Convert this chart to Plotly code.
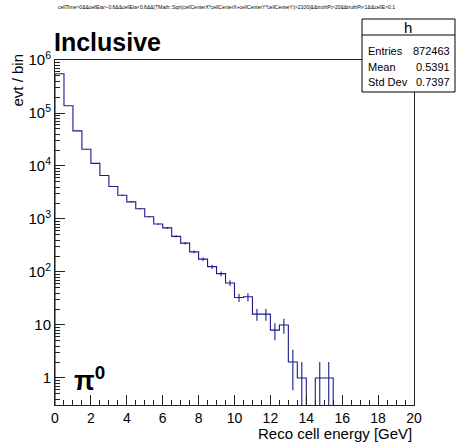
import math
import plotly.graph_objects as go

# histogram "h": reco cell energy, 0.5 GeV bins from 0 to 20
bin_lo = [i * 0.5 for i in range(40)]
counts = [550000, 137000, 46000, 20700, 11200, 6600, 4100, 2800, 2100, 1560,
          1100, 805, 680, 470, 350, 240, 175, 126, 93, 62,
          33, 34, 16, 16, 8, 10, 2, 1, 0, 1,
          1, 0, 0, 0, 0, 0, 0, 0, 0, 0]
bin_w = 0.5

stat_names = ['Entries', 'Mean', 'Std Dev']
stat_values = ['872463', '0.5391', '0.7397']

cut_text = ('cellTime&gt;0&amp;&amp;cellEta&gt;-0.6&amp;&amp;cellEta&lt;0.6&amp;&amp;'
            '(TMath::Sqrt(cellCenterX*cellCenterX+cellCenterY*cellCenterY)&gt;2100)'
            '&amp;&amp;truthPt&gt;20&amp;&amp;truthPt&lt;1&amp;&amp;cellE&gt;0.1')

FONT = 'Liberation Sans'
LINE = '#1a1a8c'
FLOOR = 0.05  # stand-in for empty bins on the log axis (below the visible range)

# step outline
step_x = [bin_lo[0]] + bin_lo + [bin_lo[-1] + bin_w]
step_y = [FLOOR] + [c if c > 0 else FLOOR for c in counts] + [FLOOR]

# sqrt(N) error bars at bin centres
err_x, err_y = [], []
for lo, c in zip(bin_lo, counts):
    if c <= 0:
        continue
    xc = lo + bin_w / 2
    err_x += [xc, xc, None]
    err_y += [max(c - math.sqrt(c), FLOOR), c + math.sqrt(c), None]

fig = go.Figure()
fig.add_trace(go.Scatter(x=step_x, y=step_y, mode='lines', line_shape='hv',
                         line=dict(color=LINE, width=1.1), hoverinfo='skip'))
fig.add_trace(go.Scatter(x=err_x, y=err_y, mode='lines',
                         line=dict(color=LINE, width=1.1), hoverinfo='skip'))

major_y = [10 ** k for k in range(7)]
minor_y = [m * 10 ** k for k in range(-1, 6) for m in range(2, 10)]

fig.update_layout(
    width=456, height=443,
    margin=dict(l=55, r=42, t=60, b=38),
    paper_bgcolor='white', plot_bgcolor='white',
    showlegend=False,
    font=dict(family=FONT, size=14, color='black'),
    xaxis=dict(range=[0, 20], showgrid=False, zeroline=False,
               showline=True, linecolor='#222', linewidth=1, mirror=True,
               ticks='inside', ticklen=10, tickcolor='#222',
               tickmode='array', tickvals=list(range(0, 21, 2)),
               minor=dict(ticks='inside', ticklen=5, tickcolor='#222', dtick=0.5),
               tickfont=dict(size=14)),
    yaxis=dict(type='log', range=[-0.51, 6.0], showgrid=False, zeroline=False,
               showline=True, linecolor='#222', linewidth=1, mirror=True,
               ticks='inside', ticklen=10, tickcolor='#222',
               tickmode='array', tickvals=major_y,
               ticktext=['1', '10'] + ['10<sup>%d</sup>' % k for k in range(2, 7)],
               minor=dict(ticks='inside', ticklen=5, tickcolor='#222',
                          tickmode='array', tickvals=minor_y),
               tickfont=dict(size=15)),
)

px_x = lambda p: (p - 55) / 359
px_y = lambda p: (405 - p) / 345

ann = [
    dict(text=cut_text, x=px_x(226), y=px_y(7), font=dict(size=5)),
    dict(text='<b>Inclusive</b>', x=px_x(52), y=px_y(42), xanchor='left',
         font=dict(size=25)),
    dict(text='<b>π<sup>0</sup></b>', x=px_x(72), y=px_y(379), xanchor='left',
         font=dict(size=27)),
    dict(text='evt / bin', x=px_x(17), y=px_y(52), yanchor='top', textangle=-90,
         font=dict(size=15)),
    dict(text='Reco cell energy [GeV]', x=1.0, y=px_y(433), xanchor='right',
         font=dict(size=15)),
    dict(text='h', x=px_x(408), y=px_y(27), font=dict(size=15)),
]
for i, (name, val) in enumerate(zip(stat_names, stat_values)):
    yy = px_y(51 + 15.5 * i)
    ann.append(dict(text=name, x=px_x(366), y=yy, xanchor='left', font=dict(size=11)))
    ann.append(dict(text=val, x=px_x(452), y=yy, xanchor='right', font=dict(size=11)))
for a in ann:
    a.update(xref='paper', yref='paper', showarrow=False)
    a.setdefault('xanchor', 'center')
    a.setdefault('yanchor', 'middle')
fig.update_layout(annotations=ann)

fig.update_layout(shapes=[
    dict(type='rect', xref='paper', yref='paper',
         x0=px_x(362), x1=px_x(455), y0=px_y(92), y1=px_y(19),
         line=dict(color='black', width=1), fillcolor='white', layer='above'),
    dict(type='line', xref='paper', yref='paper',
         x0=px_x(362), x1=px_x(455), y0=px_y(35), y1=px_y(35),
         line=dict(color='black', width=1)),
])

# drop the page's default body margin so the 456x443 figure sits at the window origin
fig.write_html("out.html", config={'displayModeBar': False},
               post_script="document.body.style.margin='0';document.body.style.overflow='hidden';")
